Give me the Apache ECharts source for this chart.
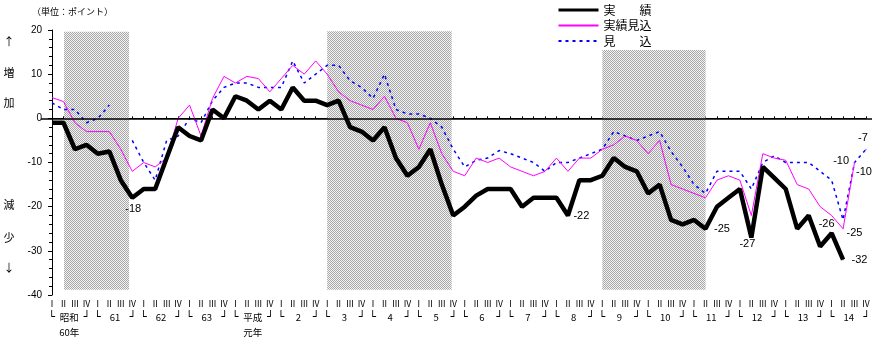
<!DOCTYPE html>
<html><head><meta charset="utf-8">
<script src="https://cdn.jsdelivr.net/npm/echarts@6/dist/echarts.min.js"></script>
<style>html,body{margin:0;padding:0;background:#fff}#c{width:876px;height:341px}</style>
</head><body><div id="c"></div>
<script>
// ---- data ----
const eraYears = ['昭和','61','62','63','平成','2','3','4','5','6','7','8','9','10','11','12','13','14'];
const eraSub   = ['60年','','','','元年','','','','','','','','','','','','',''];
const quarterLabels = ['Ⅰ','Ⅱ','Ⅲ','Ⅳ'];
const yTicks = [-40,-30,-20,-10,0,10,20];

// 実績 (actual)
const actual = [-1,-1,-7,-6,-8,-7.5,-14,-18,-16,-16,-9,-2,-4,-5,2,0,5,4,2,4,
  2,7,4,4,3,4,-2,-3,-5,-2,-9,-13,-11,-7,-15,-22,-20,-17.5,-16,-16,
  -16,-20,-18,-18,-18,-22,-14,-14,-13,-9,-11,-12,-17,-15,-23,-24,-23,-25,-20,-18,
  -16,-27,-11,-13.5,-16,-25,-22,-29,-26,-32,null,null];
// 実績見込 (estimated actual)
const estimate = [4.7,3.8,-1,-3,-3,-3,-7,-12,-10,-11,-9,0,3,-4,4.5,9.5,8,9.5,9,6,
  9,12,10,13,10,6,4,3,2,5,0,-1,-7,-1,-8,-12,-13,-9,-10,-9,
  -11,-12,-13,-12,-9,-12,-9,-9,-7,-6,-4,-5,-8,-5,-15,-16,-17,-18,-14,-13,
  -14,-22,-8,-9,-9.5,-15,-16,-20,-22,-25,-10,null];
// 見込 (forecast)
const forecast = [3.5,2,2,-1,0,3,null,-5,-10,-14,-5,-4,0,-1,4,7,8,8,7,7,
  7,13,8,10,12,12,8.5,7,4.5,10,2,1,1,0,-2,-7,-11,-9.5,-9,-7.3,
  -8,-9,-10,-12,-10,-10,-9,-8,-7,-3,-4,-5,-4,-3,-7.5,-11,-15,-17,-12,-12,
  -12,-16,-10,-8.5,-10,-10,-10,-12,-14,-23,-10,-7];

// shaded periods (in quarter-index units) and their vertical extent (points)
const shadeFrom = [1.05, 24.0, 48.0];
const shadeTo   = [6.72, 34.86, 57.01];
const shadeTop  = [19.6, 19.7, 15.5];
const shadeBottom = -38.8;

const seriesNames = ['実　　績','実績見込','見　　込'];

// ---- build ----
const categories = [];
eraYears.forEach((y, yi) => quarterLabels.forEach(q => categories.push(yi + '-' + q)));

const labelCfg = {
  actual: {7:{position:'bottom',offset:[1,0]},45:{position:'right'},57:{position:'right',offset:[3,0]},
           61:{position:'bottom',offset:[-4,-5]},68:{position:'top',offset:[-5,2]},69:{position:'right',offset:[3,0]}},
  estimate: {69:{position:'right',offset:[-2,4]},70:{position:'right',offset:[-4,9]}},
  forecast: {70:{position:'left',offset:[0,-2]},71:{position:'top',offset:[-3,0]}}
};
function withLabels(vals, cfg){
  return vals.map((v,i)=> cfg[i] ? {value:v, symbol:'circle', symbolSize:1,
     label:Object.assign({show:true}, cfg[i])} : v);
}

const pc = document.createElement('canvas'); pc.width = 2; pc.height = 2;
const g = pc.getContext('2d');
g.fillStyle = '#f2f2f2'; g.fillRect(0,0,2,2);
g.fillStyle = '#a8a8a8'; g.fillRect(0,0,1,1); g.fillRect(1,1,1,1);

const JP = '"Noto Sans CJK JP"';
const NUM = '"Liberation Sans"';
const BOX = '"DejaVu Sans Mono"';
const baseLabel = {show:false, color:'#000', fontSize:11, fontFamily:NUM, formatter:'{c}'};

const chart = echarts.init(document.getElementById('c'), null, {renderer:'canvas'});
chart.setOption({
  animation:false,
  backgroundColor:'#fff',
  grid:[
    {left:52, right:10, top:30, bottom:46},
    {left:46.27, right:4.27, top:30, bottom:46},
    {left:41, right:4, top:30, bottom:46}
  ],
  legend:{
    orient:'vertical', left:552, top:-2, itemWidth:40, itemHeight:12, itemGap:1.5,
    textStyle:{fontSize:12, fontFamily:JP, color:'#000', lineHeight:14},
    itemStyle:{opacity:0},
    data:[
      {name:seriesNames[0], lineStyle:{width:3}},
      {name:seriesNames[1]},
      {name:seriesNames[2]}
    ]
  },
  graphic:[
    {type:'text', x:32, y:12, style:{text:'（単位：ポイント）', font:'9px '+JP, fill:'#000', verticalAlign:'middle'}},
    {type:'text', x:9, y:42, style:{text:'↑', font:'11px '+JP, fill:'#000', align:'center', verticalAlign:'middle'}},
    {type:'text', x:9, y:73, style:{text:'増', font:'11px '+JP, fill:'#000', align:'center', verticalAlign:'middle'}},
    {type:'text', x:9, y:103, style:{text:'加', font:'11px '+JP, fill:'#000', align:'center', verticalAlign:'middle'}},
    {type:'text', x:9, y:205, style:{text:'減', font:'11px '+JP, fill:'#000', align:'center', verticalAlign:'middle'}},
    {type:'text', x:9, y:238, style:{text:'少', font:'11px '+JP, fill:'#000', align:'center', verticalAlign:'middle'}},
    {type:'text', x:9, y:268, style:{text:'↓', font:'11px '+JP, fill:'#000', align:'center', verticalAlign:'middle'}}
  ],
  xAxis:[
    {gridIndex:0, type:'category', data:categories, boundaryGap:false,
     axisLine:{lineStyle:{color:'#000', width:1}},
     axisTick:{show:true, inside:true, length:2, interval:0, lineStyle:{color:'#000'}},
     axisLabel:{interval:0, margin:5, fontSize:8.5, fontFamily:JP, color:'#000',
       formatter:(v)=> v.split('-')[1]},
     splitLine:{show:false}},
    {gridIndex:0, type:'value', min:0, max:categories.length-1, show:false},
    {gridIndex:1, type:'category', data:eraYears, boundaryGap:true, position:'bottom',
     axisLine:{show:false}, axisTick:{show:false}, splitLine:{show:false},
     axisLabel:{interval:0, margin:14.5, color:'#000',
       formatter:(v, i)=> '{l|└}{m|'+v+'}{r|┘}' + (eraSub[i] ? '\n{s|'+eraSub[i]+'}' : ''),
       rich:{
         l:{width:7, align:'left', fontSize:11, fontFamily:BOX, lineHeight:15, color:'#000'},
         m:{width:28, align:'center', fontSize:9.5, fontFamily:JP, lineHeight:15, color:'#000'},
         r:{width:7, align:'right', fontSize:11, fontFamily:BOX, lineHeight:15, color:'#000'},
         s:{fontSize:9.5, fontFamily:JP, lineHeight:15, color:'#000'}
       }}},
    {gridIndex:2, type:'value', min:0, max:1, show:false}
  ],
  yAxis:[
    {gridIndex:0, type:'value', min:yTicks[0], max:yTicks[yTicks.length-1], interval:10,
     axisLine:{show:true, lineStyle:{color:'#000', width:1}},
     axisTick:{show:true, length:4, lineStyle:{color:'#000'}},
     minorTick:{show:true, splitNumber:5, length:3, lineStyle:{color:'#000'}},
     splitLine:{show:false},
     axisLabel:{color:'#000', fontSize:10, fontFamily:NUM, margin:10}},
    {gridIndex:1, type:'value', show:false},
    {gridIndex:2, type:'value', min:yTicks[0], max:yTicks[yTicks.length-1], show:false}
  ],
  series:[
    {type:'line', name:'shade', xAxisIndex:1, yAxisIndex:0, data:[], z:1, silent:true,
     markArea:{silent:true, itemStyle:{color:{image:pc, repeat:'repeat'}, opacity:1, borderWidth:0},
       data: shadeFrom.map((f,i)=>[{coord:[f, shadeTop[i]]},{coord:[shadeTo[i], shadeBottom]}])}},
    {type:'line', name:'zero', xAxisIndex:3, yAxisIndex:2, data:[], z:2, silent:true,
     markLine:{silent:true, symbol:'none', label:{show:false},
       lineStyle:{color:'#000', width:1.5, type:'solid'}, data:[{yAxis:0}]}},
    {type:'line', name:seriesNames[2], xAxisIndex:0, yAxisIndex:0, z:3,
     data:withLabels(forecast, labelCfg.forecast), connectNulls:false,
     symbol:'none', showSymbol:true, showAllSymbol:true,
     lineStyle:{color:'#0000ff', width:1.5, type:[3,4]}, itemStyle:{color:'#0000ff'},
     label:baseLabel, emphasis:{disabled:true}},
    {type:'line', name:seriesNames[1], xAxisIndex:0, yAxisIndex:0, z:4,
     data:withLabels(estimate, labelCfg.estimate),
     symbol:'none', showSymbol:true, showAllSymbol:true,
     lineStyle:{color:'#ff00ff', width:1}, itemStyle:{color:'#ff00ff'},
     label:baseLabel, emphasis:{disabled:true}},
    {type:'line', name:seriesNames[0], xAxisIndex:0, yAxisIndex:0, z:5,
     data:withLabels(actual, labelCfg.actual),
     symbol:'none', showSymbol:true, showAllSymbol:true,
     lineStyle:{color:'#000', width:4.5}, itemStyle:{color:'#000'},
     label:baseLabel, emphasis:{disabled:true}}
  ]
});
</script></body></html>
